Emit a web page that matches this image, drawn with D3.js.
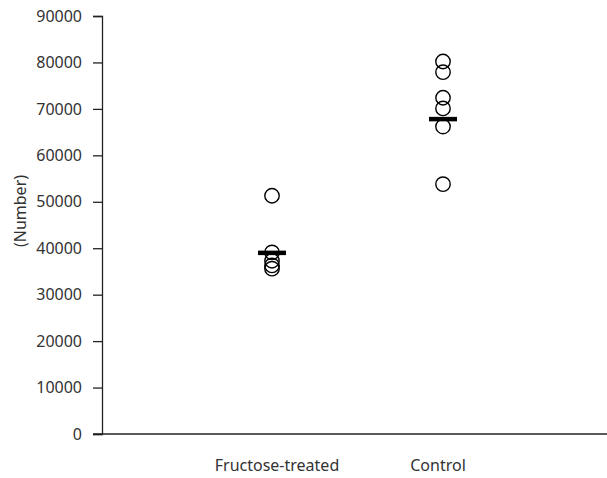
<!DOCTYPE html>
<html>
<head>
<meta charset="utf-8">
<script src="https://cdn.jsdelivr.net/npm/d3@7"></script>
<style>
  html, body { margin: 0; padding: 0; background: #fff; }
  svg { display: block; }
</style>
</head>
<body>
<svg id="chart" width="607" height="478"></svg>
<script>
// ---------------------------------------------------------------------------
// Data
// ---------------------------------------------------------------------------
const categories = ['Fructose-treated', 'Control'];
const fructoseValues = [51300, 39100, 37300, 36300, 35600];
const controlValues  = [80200, 77900, 72400, 70100, 66200, 53800];
const meanValues     = [39000, 67800];
const yTicks = [0, 10000, 20000, 30000, 40000, 50000, 60000, 70000, 80000, 90000];

const groups = [fructoseValues, controlValues];

// ---------------------------------------------------------------------------
// Layout
// ---------------------------------------------------------------------------
const FONT = '"Noto Sans", "Open Sans", sans-serif';
const TEXT = '#333';
const axisX = 102, axisTop = 16, axisBottom = 434, rightEdge = 607;

const svg = d3.select('#chart');

const y = d3.scaleLinear().domain([0, 90000]).range([axisBottom, axisTop]);
const x = d3.scalePoint().domain(categories).range([272, 443]);

// y axis
const yAx = svg.append('g')
  .attr('transform', `translate(${axisX},0)`)
  .call(d3.axisLeft(y).tickValues(yTicks).tickFormat(d3.format('d')).tickSize(9).tickPadding(11));
yAx.select('.domain').attr('stroke', '#222').attr('stroke-width', 1.3);
yAx.selectAll('.tick line').attr('stroke', '#222').attr('stroke-width', 1.3);
yAx.selectAll('text')
  .attr('fill', TEXT)
  .style('font-family', FONT)
  .style('font-size', '16px');

// x axis line (runs from the tick stub to the right edge)
svg.append('line')
  .attr('x1', axisX - 9).attr('x2', rightEdge)
  .attr('y1', y(0)).attr('y2', y(0))
  .attr('stroke', '#222').attr('stroke-width', 1.3);

// category labels
svg.append('g').selectAll('text')
  .data(categories)
  .join('text')
  .attr('x', d => x(d) + (d === 'Control' ? -5 : 5))
  .attr('y', 471)
  .attr('text-anchor', 'middle')
  .attr('fill', TEXT)
  .style('font-family', FONT)
  .style('font-size', '16px')
  .text(d => d);

// y label
svg.append('text')
  .attr('transform', 'translate(26,211) rotate(-90)')
  .attr('text-anchor', 'middle')
  .attr('fill', TEXT)
  .style('font-family', FONT)
  .style('font-size', '16px')
  .text('(Number)');

// points
groups.forEach((vals, i) => {
  svg.append('g').selectAll('circle')
    .data(vals)
    .join('circle')
    .attr('cx', x(categories[i]))
    .attr('cy', d => y(d))
    .attr('r', 7.2)
    .attr('fill', 'none')
    .attr('stroke', '#000')
    .attr('stroke-width', 1.4);
});

// mean bars
svg.append('g').selectAll('line')
  .data(meanValues)
  .join('line')
  .attr('x1', (d, i) => x(categories[i]) - 14)
  .attr('x2', (d, i) => x(categories[i]) + 14)
  .attr('y1', d => y(d)).attr('y2', d => y(d))
  .attr('stroke', '#000')
  .attr('stroke-width', 4.5);
</script>
</body>
</html>
